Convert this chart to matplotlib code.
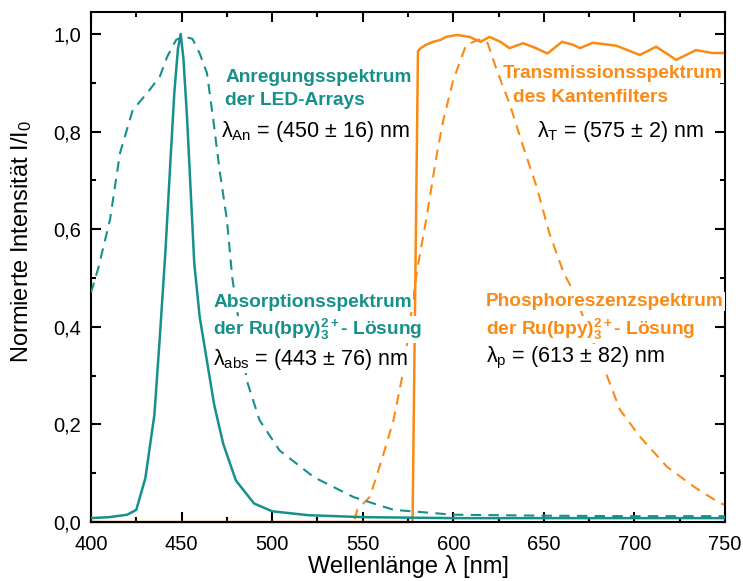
import matplotlib
matplotlib.use('Agg')
import matplotlib.pyplot as plt
from matplotlib.ticker import MultipleLocator, FuncFormatter

# colours of the two spectra groups
TEAL = '#16908a'
ORANGE = '#fb8a14'

# LED excitation spectrum (solid teal)
led_x = [400, 410, 420, 425, 430, 435, 438, 441, 444, 446, 448, 449.5, 451, 453,
         455, 457, 460, 464, 468, 473, 480, 490, 500, 520, 550, 600, 650, 700, 750]
led_y = [0.008, 0.01, 0.015, 0.025, 0.09, 0.22, 0.38, 0.55, 0.75, 0.88, 0.97, 1.0, 0.95, 0.83,
         0.68, 0.53, 0.42, 0.33, 0.24, 0.16, 0.085, 0.038, 0.022, 0.014, 0.01, 0.008, 0.008, 0.008, 0.008]

# absorption spectrum of Ru(bpy)3 (dashed teal)
abs_x = [400, 404, 410.5, 416, 423, 431, 438, 442, 447, 451, 456, 460, 464, 467.5,
         471, 475, 478, 482, 486, 493, 504, 523, 545, 567, 600, 650, 700, 750]
abs_y = [0.47, 0.52, 0.62, 0.756, 0.844, 0.879, 0.913, 0.953, 0.988, 0.995, 0.99, 0.96, 0.92, 0.824,
         0.72, 0.62, 0.50, 0.40, 0.29, 0.209, 0.147, 0.092, 0.051, 0.025, 0.015, 0.013, 0.012, 0.012]

# edge filter transmission (solid orange)
trans_x = [400, 577.5, 580.5, 582, 585, 589, 593, 596, 602, 609, 615, 620, 626, 631, 638.5,
           645, 652, 660, 666, 670, 677, 690, 703, 712, 723, 734, 743, 750]
trans_y = [0.0, 0.0, 0.965, 0.971, 0.978, 0.984, 0.988, 0.994, 0.998, 0.994, 0.984, 0.994, 0.984,
           0.971, 0.981, 0.972, 0.96, 0.984, 0.978, 0.971, 0.982, 0.976, 0.957, 0.974, 0.947, 0.967,
           0.961, 0.961]

# phosphorescence spectrum of Ru(bpy)3 (dashed orange)
phos_x = [400, 545, 547, 554, 561, 567, 572.5, 580, 585, 591, 594.5, 600, 607, 613, 616,
          619, 624, 631, 638.5, 646, 653, 661, 665, 685, 692, 703, 718, 733, 747, 750]
phos_y = [0.0, 0.0, 0.025, 0.052, 0.134, 0.209, 0.311, 0.516, 0.619, 0.756, 0.824, 0.906, 0.977,
          0.987, 0.99, 0.981, 0.926, 0.858, 0.770, 0.687, 0.592, 0.51, 0.482, 0.298, 0.23, 0.175,
          0.113, 0.072, 0.039, 0.035]

x_ticks = [400, 450, 500, 550, 600, 650, 700, 750]

plt.rcParams['font.family'] = ['Liberation Sans', 'DejaVu Sans']
plt.rcParams['mathtext.fontset'] = 'custom'
plt.rcParams['mathtext.rm'] = 'Liberation Sans'
plt.rcParams['mathtext.it'] = 'Liberation Sans:italic'
plt.rcParams['mathtext.bf'] = 'Liberation Sans:bold'

fig = plt.figure(figsize=(7.43, 5.81), dpi=100)
ax = fig.add_axes([0.1225, 0.1015, 0.8533, 0.8778])

ax.plot(phos_x, phos_y, color=ORANGE, lw=1.5, dashes=(5, 3.5), zorder=2)
ax.plot(trans_x, trans_y, color=ORANGE, lw=1.8, zorder=2, clip_on=False)
ax.plot(abs_x, abs_y, color=TEAL, lw=1.5, dashes=(5, 3.5), zorder=3)
ax.plot(led_x, led_y, color=TEAL, lw=1.8, zorder=3)

ax.set_xlim(400, 750)
ax.set_ylim(0, 1.045)
ax.set_xticks(x_ticks)
ax.xaxis.set_minor_locator(MultipleLocator(25))
ax.yaxis.set_major_locator(MultipleLocator(0.2))
ax.yaxis.set_minor_locator(MultipleLocator(0.1))
ax.yaxis.set_major_formatter(FuncFormatter(lambda v, p: f'{v:.1f}'.replace('.', ',')))

ax.tick_params(which='both', direction='in', top=True, right=True, width=1.5)
ax.tick_params(which='major', length=7, labelsize=14.5)
ax.tick_params(which='minor', length=3.6)
ax.tick_params(axis='x', pad=9)
ax.tick_params(axis='y', pad=7)
for sp in ax.spines.values():
    sp.set_linewidth(1.5)

ax.set_xlabel('Wellenlänge λ [nm]', fontsize=17, va='top')
ax.xaxis.set_label_coords(0.5, -0.065)
ax.set_ylabel('Normierte Intensität I/I$_0$', fontsize=17)
ax.yaxis.set_label_coords(-0.09, 0.55)

box = dict(facecolor='white', edgecolor='none', pad=0.5)
bold = dict(fontsize=13.8, fontweight='bold', va='baseline', ha='left', bbox=box, zorder=5)
plain = dict(fontsize=15.5, color='black', va='baseline', ha='left', bbox=box, zorder=5)

# excitation (LED)
ax.text(474, 0.902, 'Anregungsspektrum', color=TEAL, **bold)
ax.text(474, 0.855, 'der LED-Arrays', color=TEAL, **bold)
ax.text(472, 0.789, r'λ$_\mathrm{An}$ = (450 ± 16) nm', **plain)

# transmission of edge filter
ax.text(627.5, 0.91, 'Transmissionsspektrum', color=ORANGE, **bold)
ax.text(633, 0.861, 'des Kantenfilters', color=ORANGE, **bold)
ax.text(646, 0.789, r'λ$_\mathrm{T}$ = (575 ± 2) nm', **plain)

# absorption
ax.text(467.4, 0.441, 'Absorptionsspektrum', color=TEAL, **bold)
ax.text(467.4, 0.383, r'der Ru(bpy)$_\mathbf{3}^\mathbf{2+}$- Lösung', color=TEAL, **bold)
ax.text(467.4, 0.322, r'λ$_\mathrm{abs}$ = (443 ± 76) nm', **plain)

# phosphorescence
ax.text(618, 0.443, 'Phosphoreszenzspektrum', color=ORANGE, **bold)
ax.text(618, 0.383, r'der Ru(bpy)$_\mathbf{3}^\mathbf{2+}$- Lösung', color=ORANGE, **bold)
ax.text(618, 0.328, r'λ$_\mathrm{p}$ = (613 ± 82) nm', **plain)

fig.savefig('out.png', dpi=100)
